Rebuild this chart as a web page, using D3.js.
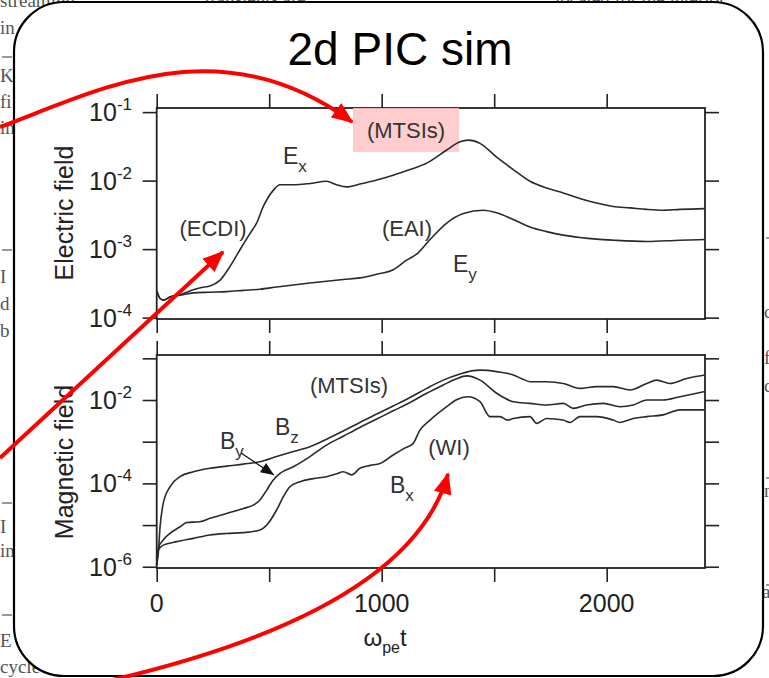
<!DOCTYPE html>
<html>
<head>
<meta charset="utf-8">
<script src="https://cdn.jsdelivr.net/npm/d3@7/dist/d3.min.js"></script>
<style>
  body { margin: 0; background: #fff; }
  svg { display: block; }
  text { font-family: "Liberation Sans", Arial, Helvetica, sans-serif; }
  text.paper { font-family: "Liberation Serif", "DejaVu Serif", serif; }
</style>
</head>
<body>
<div id="chart"></div>
<script>
// ---- data (time in omega_pe t, field amplitudes) ----
var xTicks = [0, 500, 1000, 1500, 2000];
var xLabels = [0, 1000, 2000];
var eTicks = [1e-1, 1e-2, 1e-3, 1e-4];
var eLabels = [-1, -2, -3, -4];
var bTicks = [1e-1, 1e-2, 1e-3, 1e-4, 1e-5, 1e-6];
var bLabels = [-2, -4, -6];

var tEx = [0, 15, 30, 59, 110, 163, 200, 237, 281, 326, 370, 415, 444, 474, 518, 548, 607, 681, 755, 800, 844, 903, 978, 1051, 1126, 1200, 1289, 1348, 1385, 1437, 1511, 1585, 1659, 1733, 1807, 1881, 1955, 2029, 2104, 2178, 2251, 2326, 2437];
var ex  = [2.5e-4, 1.9e-4, 1.8e-4, 2.0e-4, 2.2e-4, 2.55e-4, 2.75e-4, 2.9e-4, 3.5e-4, 5.6e-4, 9.8e-4, 1.7e-3, 2.4e-3, 4.2e-3, 7.2e-3, 8.7e-3, 8.7e-3, 9.1e-3, 9.8e-3, 8.7e-3, 8.1e-3, 8.9e-3, 1.02e-2, 1.2e-2, 1.45e-2, 1.8e-2, 2.8e-2, 3.7e-2, 3.9e-2, 3.5e-2, 2.2e-2, 1.45e-2, 9.8e-3, 7.8e-3, 6.6e-3, 5.5e-3, 4.7e-3, 4.2e-3, 4.0e-3, 3.8e-3, 3.7e-3, 3.8e-3, 3.9e-3];

var tEy = [0, 15, 30, 59, 110, 163, 237, 311, 385, 459, 533, 607, 681, 755, 829, 903, 978, 1051, 1111, 1160, 1215, 1289, 1363, 1452, 1511, 1585, 1659, 1733, 1807, 1881, 1955, 2029, 2178, 2326, 2437];
var ey  = [2.5e-4, 1.9e-4, 1.8e-4, 2.0e-4, 2.15e-4, 2.3e-4, 2.35e-4, 2.4e-4, 2.5e-4, 2.6e-4, 2.8e-4, 3.0e-4, 3.2e-4, 3.4e-4, 3.6e-4, 3.8e-4, 4.3e-4, 5.0e-4, 6.9e-4, 8.7e-4, 1.38e-3, 2.4e-3, 3.3e-3, 3.7e-3, 3.4e-3, 2.7e-3, 2.1e-3, 1.8e-3, 1.6e-3, 1.48e-3, 1.4e-3, 1.35e-3, 1.29e-3, 1.35e-3, 1.38e-3];

var tBy = [0, 7, 15, 29, 59, 104, 163, 237, 311, 385, 459, 533, 607, 681, 755, 829, 903, 978, 1051, 1126, 1200, 1274, 1348, 1400, 1437, 1511, 1585, 1620, 1659, 1733, 1807, 1881, 1955, 2029, 2104, 2178, 2222, 2281, 2355, 2437];
var by  = [1.1e-6, 2.1e-6, 9.1e-6, 3.3e-5, 8.3e-5, 1.45e-4, 1.9e-4, 2.3e-4, 2.6e-4, 2.9e-4, 3.3e-4, 4.4e-4, 5.8e-4, 7.6e-4, 1.15e-3, 1.8e-3, 2.9e-3, 4.6e-3, 7.2e-3, 1.15e-2, 1.9e-2, 3.0e-2, 4.2e-2, 5.0e-2, 5.2e-2, 4.8e-2, 4.0e-2, 3.3e-2, 2.75e-2, 2.75e-2, 2.5e-2, 1.9e-2, 2.1e-2, 2.1e-2, 1.74e-2, 2.5e-2, 3.0e-2, 2.5e-2, 3.3e-2, 4.0e-2];

var tBz = [0, 7, 29, 59, 104, 133, 192, 237, 311, 385, 429, 459, 489, 518, 548, 607, 681, 755, 829, 903, 978, 1051, 1126, 1200, 1274, 1330, 1378, 1437, 1511, 1585, 1659, 1733, 1807, 1852, 1911, 1985, 2059, 2118, 2178, 2251, 2326, 2437];
var bz  = [1.1e-6, 2.8e-6, 4.4e-6, 6.3e-6, 9.1e-6, 1.15e-5, 1.2e-5, 1.45e-5, 1.9e-5, 2.5e-5, 3.0e-5, 4.0e-5, 6.9e-5, 1.2e-4, 1.74e-4, 2.5e-4, 4.4e-4, 8.3e-4, 1.35e-3, 2.2e-3, 3.5e-3, 5.5e-3, 8.7e-3, 1.45e-2, 2.3e-2, 3.2e-2, 3.8e-2, 3.0e-2, 1.45e-2, 9.1e-3, 8.3e-3, 7.6e-3, 8.3e-3, 6.3e-3, 7.6e-3, 8.3e-3, 6.9e-3, 7.6e-3, 1.0e-2, 1.0e-2, 1.2e-2, 1.6e-2];

var tBx = [0, 7, 29, 89, 163, 237, 311, 385, 459, 489, 533, 563, 592, 637, 696, 755, 800, 829, 867, 903, 950, 992, 1051, 1100, 1140, 1170, 1215, 1289, 1330, 1385, 1437, 1481, 1526, 1560, 1585, 1659, 1689, 1733, 1807, 1837, 1881, 1955, 2029, 2059, 2118, 2178, 2251, 2326, 2437];
var bx  = [1.1e-6, 2.5e-6, 3.3e-6, 4.0e-6, 4.8e-6, 5.8e-6, 6.3e-6, 6.6e-6, 7.6e-6, 1.0e-5, 2.3e-5, 4.8e-5, 8.3e-5, 1.1e-4, 1.3e-4, 1.45e-4, 1.7e-4, 1.9e-4, 1.6e-4, 2.3e-4, 2.7e-4, 3.0e-4, 4.8e-4, 6.9e-4, 9.1e-4, 1.9e-3, 3.3e-3, 6.9e-3, 1.0e-2, 1.2e-2, 9.1e-3, 4.0e-3, 4.0e-3, 3.3e-3, 3.6e-3, 4.0e-3, 2.75e-3, 3.6e-3, 3.3e-3, 2.9e-3, 4.0e-3, 4.0e-3, 3.3e-3, 2.9e-3, 3.6e-3, 4.0e-3, 4.4e-3, 5.8e-3, 5.8e-3];

// background page text peeking out around the slide box
var paperText = [
  [0, 7, "streaming"], [205, 5, "transients are"], [555, 5, "located for the interior"],
  [0, 34, "in"], [0, 82, "K"], [0, 108, "fi"], [0, 134, "in"],
  [0, 283, "I"], [0, 310, "d"], [0, 337, "b"],
  [0, 533, "I"], [0, 557, "in"], [0, 647, "E"], [0, 673, "cycle"],
  [764, 318, "c"], [764, 364, "fi"], [764, 392, "c"], [764, 497, "n"], [762, 598, "ac"]
];
var paperRules = [[57, 0], [250, 0], [503, 0], [615, 0], [238, 764], [478, 764], [585, 764]];

var W = 769, H = 678;
var svg = d3.select("#chart").append("svg")
    .attr("width", W)
    .attr("height", H);

svg.append("rect").attr("width", W).attr("height", H).attr("fill", "#fff");

var paper = svg.append("g");
paper.selectAll("text").data(paperText).join("text")
    .attr("class", "paper")
    .attr("x", d => d[0]).attr("y", d => d[1])
    .attr("fill", "#555")
    .style("font-size", "19px")
    .text(d => d[2]);
paper.selectAll("line").data(paperRules).join("line")
    .attr("x1", d => d[1] + 2).attr("x2", d => d[1] + 12)
    .attr("y1", d => d[0]).attr("y2", d => d[0])
    .attr("stroke", "#777").attr("stroke-width", 1.5);

// the slide box
svg.append("rect")
    .attr("x", 14).attr("y", 2)
    .attr("width", 749).attr("height", 674)
    .attr("rx", 50).attr("ry", 50)
    .attr("fill", "#fff")
    .attr("stroke", "#000")
    .attr("stroke-width", 2.2);

svg.append("text")
    .attr("x", 400).attr("y", 65)
    .attr("text-anchor", "middle")
    .style("font-size", "46px")
    .attr("fill", "#000")
    .text("2d PIC sim");

// scales
var x = d3.scaleLinear().domain([0, 2437]).range([156.7, 705]);
var yE = d3.scaleLog().domain([Math.pow(10, -4.02), Math.pow(10, -0.94)]).range([319, 108]);
var yB = d3.scaleLog().domain([Math.pow(10, -6.03), Math.pow(10, -0.92)]).range([568, 355]);

var ink = "#222";

function panel(y, yTicks) {
    var g = svg.append("g");
    var top = y.range()[1], bot = y.range()[0];
    var axes = [
        [d3.axisTop(x).tickValues(xTicks), "translate(0," + top + ")"],
        [d3.axisBottom(x).tickValues(xTicks), "translate(0," + bot + ")"],
        [d3.axisLeft(y).tickValues(yTicks), "translate(" + x.range()[0] + ",0)"],
        [d3.axisRight(y).tickValues(yTicks), "translate(" + x.range()[1] + ",0)"]
    ];
    axes.forEach(function (a) {
        var ax = g.append("g").attr("transform", a[1])
            .call(a[0].tickSize(14).tickSizeOuter(0).tickFormat(""));
        ax.select(".domain").remove();
        ax.selectAll("line").attr("stroke", ink).attr("stroke-width", 1.6);
    });
    g.append("rect")
        .attr("x", x.range()[0]).attr("y", top)
        .attr("width", x.range()[1] - x.range()[0])
        .attr("height", bot - top)
        .attr("fill", "none").attr("stroke", ink).attr("stroke-width", 1.8);
    return g;
}

function powLabels(g, y, exps) {
    g.selectAll("text.pow").data(exps).join("text")
        .attr("class", "pow")
        .attr("x", 132)
        .attr("y", d => y(Math.pow(10, d)) + 9)
        .attr("text-anchor", "end")
        .attr("fill", ink)
        .style("font-size", "25px")
        .each(function (d) {
            var t = d3.select(this);
            t.append("tspan").text("10");
            t.append("tspan").attr("dy", -11).style("font-size", "17px").text(String(d));
        });
}

function curve(g, y, ts, vs) {
    var line = d3.line()
        .x(d => x(d[0]))
        .y(d => y(d[1]))
        .curve(d3.curveMonotoneX);
    g.append("path")
        .datum(ts.map((t, i) => [t, vs[i]]))
        .attr("d", line)
        .attr("fill", "none")
        .attr("stroke", "#2a2a2a")
        .attr("stroke-width", 1.6);
}

var gE = panel(yE, eTicks);
powLabels(gE, yE, eLabels);

// highlight behind (MTSIs) in the upper panel
gE.append("rect")
    .attr("x", 353).attr("y", 108)
    .attr("width", 106).attr("height", 44)
    .attr("fill", "#ffc4c4").attr("opacity", 0.85);

curve(gE, yE, tEx, ex);
curve(gE, yE, tEy, ey);

var gB = panel(yB, bTicks);
powLabels(gB, yB, bLabels);
curve(gB, yB, tBy, by);
curve(gB, yB, tBz, bz);
curve(gB, yB, tBx, bx);

// x tick labels and title of the time axis
gB.selectAll("text.xl").data(xLabels).join("text")
    .attr("class", "xl")
    .attr("x", d => x(d))
    .attr("y", 612)
    .attr("text-anchor", "middle")
    .attr("fill", ink)
    .style("font-size", "25px")
    .text(d => d);

var xt = svg.append("text").attr("x", 385).attr("y", 646)
    .attr("text-anchor", "middle").attr("fill", ink).style("font-size", "24px");
xt.append("tspan").text("ω");
xt.append("tspan").attr("dy", 7).style("font-size", "16px").text("pe");
xt.append("tspan").attr("dy", -7).text("t");

[["Electric field", 213], ["Magnetic field", 462]].forEach(function (d) {
    svg.append("text")
        .attr("transform", "translate(73," + d[1] + ") rotate(-90)")
        .attr("text-anchor", "middle")
        .attr("fill", ink)
        .style("font-size", "25px")
        .text(d[0]);
});

// annotations inside the panels
function named(xp, yp, main, s) {
    var t = svg.append("text").attr("x", xp).attr("y", yp)
        .attr("fill", "#333").style("font-size", "23px");
    t.append("tspan").text(main);
    t.append("tspan").attr("dy", 8).style("font-size", "17px").text(s);
}
var notes = [
    [406, 138, "(MTSIs)"], [213, 236, "(ECDI)"], [407, 236, "(EAI)"],
    [349, 393, "(MTSIs)"], [449, 455, "(WI)"]
];
notes.forEach(function (d) {
    svg.append("text").attr("x", d[0]).attr("y", d[1])
        .attr("text-anchor", "middle").attr("fill", "#333")
        .style("font-size", "22px").text(d[2]);
});
named(283, 164, "E", "x");
named(453, 272, "E", "y");
named(220, 449, "B", "y");
named(275, 435, "B", "z");
named(390, 493, "B", "x");

// small black pointer from the B_y label
var defs = svg.append("defs");
defs.append("marker").attr("id", "blk")
    .attr("viewBox", "0 0 12 10").attr("refX", 12).attr("refY", 5)
    .attr("markerWidth", 14).attr("markerHeight", 11)
    .attr("markerUnits", "userSpaceOnUse").attr("orient", "auto")
    .append("path").attr("d", "M0,0L12,5L0,10z").attr("fill", "#111");
defs.append("marker").attr("id", "red")
    .attr("viewBox", "0 0 12 10").attr("refX", 11).attr("refY", 5)
    .attr("markerWidth", 22).attr("markerHeight", 18)
    .attr("markerUnits", "userSpaceOnUse").attr("orient", "auto")
    .append("path").attr("d", "M0,0L12,5L0,10z").attr("fill", "#f00");

svg.append("line")
    .attr("x1", 241).attr("y1", 453).attr("x2", 274).attr("y2", 475)
    .attr("stroke", "#111").attr("stroke-width", 1.3)
    .attr("marker-end", "url(#blk)");

// red slide arrows
var arrows = [
    "M0,127 C100,90 220,25 352,122",
    "M0,458 L223,252",
    "M112,680 Q410,610 448,474"
];
svg.selectAll("path.arrow").data(arrows).join("path")
    .attr("class", "arrow")
    .attr("d", d => d)
    .attr("fill", "none")
    .attr("stroke", "#f00")
    .attr("stroke-width", 4)
    .attr("marker-end", "url(#red)");
</script>
</body>
</html>
